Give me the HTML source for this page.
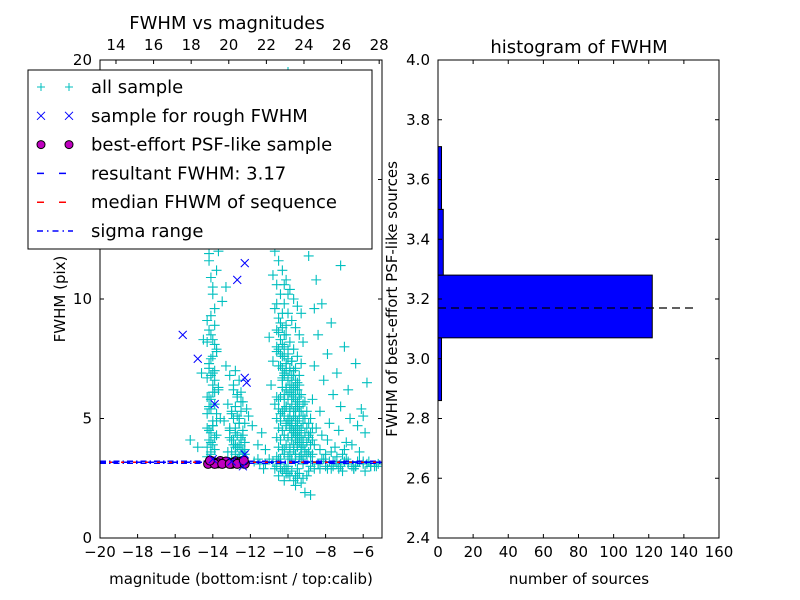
<!DOCTYPE html>
<html><head><meta charset="utf-8"><style>
html,body{margin:0;padding:0;background:#fff;}
svg{display:block;font-family:"DejaVu Sans","Liberation Sans",sans-serif;}
</style></head><body>
<svg id="fig" width="800" height="600" viewBox="0 0 800 600" xmlns="http://www.w3.org/2000/svg">
<rect width="800" height="600" fill="#fff"/>
<g id="left"></g>
<g id="right"></g>
</svg>
<script>
// ---- left chart data ----
const allMag = [
-14.3,-14.2,-14.1,-14.0,-13.9,-14.3,-14.2,-14.0,-13.8,-14.1,-14.2,-14.3,-14.0,-13.9,-14.1,-14.2,-13.8,-14.0,-14.3,-14.1,
-14.2,-14.0,-13.9,-14.1,-14.3,-14.2,-13.8,-14.0,-14.1,-13.9,-14.2,-14.0,-14.3,-13.7,-13.6,-13.8,-14.1,-13.9,-14.2,-14.0,
-13.3,-13.1,-12.9,-12.8,-12.6,-12.5,-12.4,-13.2,-13.0,-12.7,-12.5,-12.3,-13.4,-13.1,-12.8,-12.6,-12.4,-13.0,-12.9,-12.7,
-12.5,-12.3,-13.2,-12.8,-12.6,-12.4,-13.0,-12.7,-12.5,-12.3,-12.9,-12.6,-12.4,-12.2,-13.1,-12.8,-12.5,-12.3,-12.6,-12.4,
-10.9,-10.7,-10.5,-10.3,-10.1,-9.9,-9.7,-9.5,-9.3,-10.8,-10.6,-10.4,-10.2,-10.0,-9.8,-9.6,-9.4,-9.2,-10.7,-10.5,
-10.3,-10.1,-9.9,-9.7,-9.5,-9.3,-10.6,-10.4,-10.2,-10.0,-9.8,-9.6,-9.4,-10.5,-10.3,-10.1,-9.9,-9.7,-9.5,-10.4,
-10.2,-10.0,-9.8,-9.6,-9.4,-10.3,-10.1,-9.9,-9.7,-9.5,-10.2,-10.0,-9.8,-9.6,-9.4,-9.2,-10.1,-9.9,-9.7,-9.5,
-10.0,-9.8,-9.6,-9.4,-9.9,-9.7,-9.5,-9.3,-9.8,-9.6,-9.4,-9.2,-9.7,-9.5,-9.3,-9.1,-10.2,-9.9,-9.6,-9.3,
-10.6,-10.3,-10.0,-9.7,-9.4,-10.5,-10.2,-9.9,-9.6,-9.3,-10.4,-10.1,-9.8,-9.5,-9.2,-10.0,-9.7,-9.4,-9.1,-8.9,
-10.7,-10.4,-10.1,-9.8,-9.5,-10.9,-10.6,-10.2,-9.9,-9.6,-10.8,-10.3,-9.8,-9.4,-10.5,-10.0,-9.6,-11.0,-10.6,-10.1,
-11.8,-11.5,-11.2,-10.8,-10.4,-10.0,-9.6,-9.2,-8.8,-8.4,-8.0,-7.6,-7.2,-6.8,-6.4,-6.0,-5.6,-5.2,-11.6,-11.0,
-10.5,-9.9,-9.3,-8.7,-8.1,-7.5,-6.9,-6.3,-5.7,-11.3,-10.7,-10.1,-9.5,-8.9,-8.3,-7.7,-7.1,-6.5,-5.9,-5.4,
-8.9,-8.6,-8.3,-8.0,-7.7,-7.4,-7.1,-8.8,-8.5,-8.2,-7.9,-7.5,-7.0,-6.6,-6.2,-8.7,-8.3,-7.8,-7.3,-6.9,
-8.6,-8.1,-7.6,-7.2,-6.7,-6.3,-5.9,-8.4,-7.9,-7.4,-6.8,-6.1,-8.2,-7.7,-7.0,-6.4,-5.8,-8.5,-7.2,-6.0,
-10.6,-10.2,-9.8,-9.4,-9.0,-10.4,-10.0,-9.6,-9.2,-10.3,-9.9,-9.5,-10.1,-9.7,-9.3,-10.5,-9.1,-8.8,-9.6,-10.2,
-15.2,-14.8,-14.6,-14.5,-13.5,-13.3,-13.7,-11.9,-11.6,-11.2,-12.1,-11.4,-9.4,-9.2,-8.6,-8.9
];
const allFwhm = [
12.3,11.6,10.9,10.2,9.6,9.1,8.7,8.3,7.9,7.5,7.1,6.7,6.4,6.1,5.8,5.5,5.2,4.9,4.6,4.4,
4.1,3.9,3.7,3.5,3.4,11.9,11.2,10.5,9.3,8.1,7.3,6.9,5.9,6.2,5.0,4.3,3.6,6.6,5.4,4.7,
7.2,6.8,6.4,7.0,6.6,6.1,5.7,5.6,5.2,5.9,5.3,4.8,4.9,4.6,4.4,4.8,4.3,4.1,3.9,3.8,
3.7,4.0,3.6,3.5,3.4,3.6,3.3,3.3,3.2,3.5,6.2,5.0,4.5,5.4,4.2,3.9,4.1,3.7,3.3,3.4,
12.5,12.0,11.6,11.2,10.8,10.4,10.0,9.7,9.4,11.0,10.6,10.2,9.8,9.4,9.1,8.8,8.5,8.2,9.6,9.2,
8.8,8.5,8.2,7.9,7.6,7.3,8.7,8.3,8.0,7.7,7.4,7.1,6.8,7.9,7.6,7.3,7.0,6.8,6.5,7.2,
6.9,6.6,6.4,6.2,6.0,6.6,6.3,6.1,5.9,5.7,6.0,5.8,5.6,5.4,5.3,5.1,5.5,5.3,5.1,4.9,
4.9,4.8,4.6,4.5,4.6,4.4,4.3,4.2,4.2,4.1,4.0,3.9,3.9,3.8,3.7,3.6,3.7,3.6,3.5,3.4,
15.0,14.2,13.6,13.0,12.6,16.5,15.5,14.6,13.8,13.2,18.0,16.9,15.8,14.9,14.0,19.5,17.6,16.2,15.1,13.4,
5.6,5.2,4.8,4.5,4.2,6.4,5.9,5.4,5.0,4.7,7.4,6.7,6.0,5.5,5.8,4.9,4.4,8.4,7.8,7.0,
3.2,3.1,3.1,3.2,3.1,3.0,3.2,3.1,3.0,3.1,3.2,3.0,3.1,3.2,3.0,3.1,3.0,3.1,3.3,3.3,
3.3,3.3,3.3,3.2,3.3,3.2,3.3,3.2,3.2,2.9,2.9,2.9,2.9,2.8,2.9,2.9,2.8,2.9,2.8,3.0,
4.2,3.9,3.7,3.5,3.6,3.4,3.5,5.0,4.6,4.3,4.1,3.8,3.7,3.9,3.6,5.8,5.3,4.8,4.5,4.0,
7.2,6.6,6.0,5.5,5.0,4.7,4.4,8.5,7.7,6.9,6.2,5.4,9.8,9.0,8.0,7.3,6.5,10.8,11.4,5.1,
3.0,2.9,2.8,2.7,2.6,2.9,2.7,2.6,2.5,2.8,2.6,2.5,2.7,2.4,2.3,2.6,1.9,1.8,2.2,2.4,
4.1,3.8,6.9,8.3,9.9,10.5,12.0,4.7,3.9,3.7,5.1,4.4,12.8,13.7,9.6,11.8
];
// dense core of the all-sample cloud
const coreMag = [
-10.6,-10.4,-10.2,-10.0,-9.8,-9.6,-9.4,-9.2,-9.0,-8.8,-10.5,-10.3,-10.1,-9.9,-9.7,-9.5,-9.3,-9.1,-8.9,-8.7,
-10.6,-10.4,-10.2,-10.0,-9.8,-9.6,-9.4,-9.2,-9.0,-8.8,-10.5,-10.3,-10.1,-9.9,-9.7,-9.5,-9.3,-9.1,-8.9,-8.7,
-10.6,-10.4,-10.2,-10.0,-9.8,-9.6,-9.4,-9.2,-9.0,-8.8,-10.5,-10.3,-10.1,-9.9,-9.7,-9.5,-9.3,-9.1,-8.9,-8.7,
-10.4,-10.2,-10.0,-9.8,-9.6,-9.4,-9.2,-9.0,-10.3,-10.1,-9.9,-9.7,-9.5,-9.3,-9.1,-10.2,-10.0,-9.8,-9.6,-9.4,
-10.5,-10.3,-10.1,-9.9,-9.7,-10.4,-10.2,-10.0,-9.8,-10.6,-10.3,-10.0,-10.5,-10.2,-10.4,-10.1,-10.3,-10.6,-10.0,-10.2,
-14.3,-14.1,-13.9,-14.2,-14.0,-13.8,-14.3,-14.1,-13.9,-14.2,-14.0,-13.7,-14.1,-13.9,-14.2,-14.0,-13.8,-14.3,-14.1,-13.9,
-13.0,-12.8,-12.6,-12.9,-12.7,-12.5,-13.1,-12.8,-12.6,-12.9,-12.7,-12.4,-13.0,-12.8,-12.5,-12.7,
-8.4,-8.0,-7.6,-7.2,-6.8,-6.4,-6.0,-5.6,-8.2,-7.8,-7.4,-7.0,-6.6,-6.2,-5.8,-5.3,-8.6,-7.9,-7.3,-6.5
];
const coreFwhm = [
3.4,3.3,3.5,3.4,3.3,3.5,3.4,3.3,3.5,3.4,3.8,3.7,3.9,3.8,3.7,3.9,3.8,3.7,3.6,3.5,
4.2,4.1,4.3,4.2,4.1,4.3,4.2,4.1,4.0,3.9,4.6,4.5,4.7,4.6,4.5,4.7,4.6,4.4,4.3,4.1,
5.0,4.9,5.1,5.0,4.9,5.1,5.0,4.8,4.6,4.4,5.4,5.3,5.5,5.4,5.3,5.5,5.3,5.0,4.8,4.6,
5.9,5.8,6.0,5.9,5.8,5.9,5.6,5.3,6.3,6.2,6.4,6.3,6.2,6.0,5.7,6.8,6.7,6.8,6.6,6.4,
7.2,7.1,7.3,7.1,7.0,7.7,7.6,7.5,7.4,8.0,8.1,7.9,8.6,8.5,9.0,8.9,9.4,9.8,10.2,10.6,
3.8,4.0,4.2,4.5,4.7,4.9,5.2,5.4,5.6,5.9,6.1,6.3,6.8,7.0,7.3,7.6,7.8,8.2,8.5,8.9,
3.6,3.8,3.9,4.1,4.3,4.2,4.5,4.6,4.8,5.0,5.1,3.7,5.3,5.5,5.7,6.0,
3.1,3.0,3.2,3.0,3.1,3.0,3.2,3.0,3.3,3.2,3.1,3.2,3.0,3.2,3.1,3.0,2.9,2.9,2.9,2.9
];
const roughMag = [-15.6,-14.8,-13.9,-12.7,-12.3,-12.3,-12.2,-12.3,-12.4,-14.0,-13.0];
const roughFwhm = [8.5,7.5,5.6,10.8,11.5,6.7,6.5,3.5,3.0,3.3,3.2];
const psfMag = [-14.2,-14.0,-13.8,-13.6,-13.4,-13.2,-13.0,-12.8,-12.6,-12.4,-14.1,-13.7,-13.3,-12.9,-12.5,-14.25,-13.9,-13.5,-13.1,-12.7,-12.3,-14.15,-12.35];
const psfFwhm = [3.15,3.2,3.12,3.22,3.14,3.18,3.1,3.21,3.16,3.13,3.22,3.12,3.2,3.15,3.19,3.1,3.1,3.1,3.1,3.1,3.1,3.24,3.24];
const resultFwhm = 3.17;
const medianFwhm = 3.17;
const sigmaRange = [3.13, 3.21];
const xTicksBottom = [-20,-18,-16,-14,-12,-10,-8,-6];
const xTicksTop = [14,16,18,20,22,24,26,28];
const yTicksLeft = [0,5,10,15,20];
// ---- histogram data ----
const binEdges = [2.86,3.07,3.28,3.50,3.71];
const binCounts = [2,122,3,2];
const histXTicks = [0,20,40,60,80,100,120,140,160];
const histYTicks = [2.4,2.6,2.8,3.0,3.2,3.4,3.6,3.8,4.0];

const NS="http://www.w3.org/2000/svg";
function mk(parent,tag,attrs,text){const e=document.createElementNS(NS,tag);for(const k in attrs)e.setAttribute(k,attrs[k]);if(text!==undefined)e.textContent=text;parent.appendChild(e);return e;}
const fmt=v=>String(v).replace('-','\u2212');

const L={x0:100,x1:382,y0:538,y1:60,xmin:-20,xmax:-5,ymin:0,ymax:20};
const lx=v=>L.x0+(v-L.xmin)/(L.xmax-L.xmin)*(L.x1-L.x0);
const ly=v=>L.y0-(v-L.ymin)/(L.ymax-L.ymin)*(L.y0-L.y1);
const calibOffset=33.15;
const left=document.getElementById('left');
const clipDefs=mk(document.getElementById('fig'),'defs',{});
const cp=mk(clipDefs,'clipPath',{id:'lclip'});
mk(cp,'rect',{x:L.x0,y:L.y1,width:L.x1-L.x0,height:L.y0-L.y1});
const plot=mk(left,'g',{'clip-path':'url(#lclip)'});


const allG=mk(plot,'g',{stroke:'#00bfbf','stroke-width':1.1});


function plus(xv,yv){const x=lx(xv),y=ly(yv);
  const p=mk(allG,'path',{d:`M${x-5},${y}h10M${x},${y-5}v10`});
  
  }
for(let i=0;i<allMag.length;i++)plus(allMag[i],allFwhm[i]);
for(let i=0;i<coreMag.length;i++)plus(coreMag[i],coreFwhm[i]);
function hline(v,attrs,name){const l=mk(plot,'line',Object.assign({x1:L.x0,x2:L.x1,y1:ly(v),y2:ly(v)},attrs));}
hline(sigmaRange[0],{stroke:'#00f','stroke-width':1.5,'stroke-dasharray':'6 3 1.5 3'},'sigma-range-lower');
hline(sigmaRange[1],{stroke:'#00f','stroke-width':1.5,'stroke-dasharray':'6 3 1.5 3'},'sigma-range-upper');
hline(medianFwhm,{stroke:'#f00','stroke-width':1.5,'stroke-dasharray':'6 6','stroke-dashoffset':3},'median-fwhm-line');
hline(resultFwhm,{stroke:'#00f','stroke-width':1.5,'stroke-dasharray':'6 6'},'resultant-fwhm-line');
const psfG=mk(plot,'g',{fill:'#bf00bf',stroke:'#000','stroke-width':1});


for(let i=0;i<psfMag.length;i++){const c=mk(psfG,'circle',{cx:lx(psfMag[i]),cy:ly(psfFwhm[i]),r:4.5});
  
  }
const roughG=mk(plot,'g',{stroke:'#00f','stroke-width':1});


for(let i=0;i<roughMag.length;i++){const x=lx(roughMag[i]),y=ly(roughFwhm[i]);
  const p=mk(roughG,'path',{d:`M${x-4},${y-4}l8,8M${x-4},${y+4}l8,-8`});
  
  }
mk(left,'rect',{x:L.x0,y:L.y1,width:L.x1-L.x0,height:L.y0-L.y1,fill:'none',stroke:'#000','stroke-width':1});
const tickG=mk(left,'g',{stroke:'#000','stroke-width':1});
const txtG=mk(left,'g',{'font-size':15,fill:'#000'});
xTicksBottom.forEach(v=>{const x=lx(v);mk(tickG,'line',{x1:x,x2:x,y1:L.y0,y2:L.y0-4});
  const t=mk(txtG,'text',{x:x,y:L.y0+19,'text-anchor':'middle'},fmt(v));});
xTicksTop.forEach(v=>{const x=lx(v-calibOffset);mk(tickG,'line',{x1:x,x2:x,y1:L.y1,y2:L.y1+4});
  const t=mk(txtG,'text',{x:x,y:L.y1-10,'text-anchor':'middle'},fmt(v));});
yTicksLeft.forEach(v=>{const y=ly(v);mk(tickG,'line',{x1:L.x0,x2:L.x0+4,y1:y,y2:y});mk(tickG,'line',{x1:L.x1,x2:L.x1-4,y1:y,y2:y});
  const t=mk(txtG,'text',{x:L.x0-8,y:y+5,'text-anchor':'end'},fmt(v));});
let t;
t=mk(left,'text',{x:227,y:29,'text-anchor':'middle','font-size':18},'FWHM vs magnitudes');
t=mk(left,'text',{x:241,y:584,'text-anchor':'middle','font-size':15},'magnitude (bottom:isnt / top:calib)');
t=mk(left,'text',{x:65,y:299,'text-anchor':'middle','font-size':15,transform:'rotate(-90 65 299)'},'FWHM (pix)');
const lg=mk(left,'g',{});


mk(lg,'rect',{x:28,y:70,width:344,height:179,fill:'#fff',stroke:'#000','stroke-width':1});
const entries=['all sample','sample for rough FWHM','best-effort PSF-like sample','resultant FWHM: 3.17','median FHWM of sequence','sigma range'];
entries.forEach((s,i)=>{const y=87+i*28.8;const g=mk(lg,'g',{});
  
  
  [41,69].forEach(x=>{
    if(i===0)mk(g,'path',{d:`M${x-4},${y}h8M${x},${y-4}v8`,stroke:'#00bfbf'});
    if(i===1)mk(g,'path',{d:`M${x-4},${y-4}l8,8M${x-4},${y+4}l8,-8`,stroke:'#00f'});
    if(i===2)mk(g,'circle',{cx:x,cy:y,r:4,fill:'#bf00bf',stroke:'#000'});
  });
  if(i===3)mk(g,'line',{x1:37,x2:73,y1:y,y2:y,stroke:'#00f','stroke-width':1.5,'stroke-dasharray':'7 15'});
  if(i===4)mk(g,'line',{x1:37,x2:73,y1:y,y2:y,stroke:'#f00','stroke-width':1.5,'stroke-dasharray':'7 15'});
  if(i===5)mk(g,'line',{x1:37,x2:73,y1:y,y2:y,stroke:'#00f','stroke-width':1.5,'stroke-dasharray':'6 4 1.5 4'});
  mk(g,'text',{x:91,y:y+6,'font-size':18},s);});

const R={x0:438,x1:719,y0:538,y1:60,xmin:0,xmax:160,ymin:2.4,ymax:4.0};
const rx=v=>R.x0+(v-R.xmin)/(R.xmax-R.xmin)*(R.x1-R.x0);
const ry=v=>R.y0-(v-R.ymin)/(R.ymax-R.ymin)*(R.y0-R.y1);
const right=document.getElementById('right');
const barsG=mk(right,'g',{fill:'#00f',stroke:'#000','stroke-width':1});


binCounts.forEach((c,i)=>{const yT=ry(binEdges[i+1]),yB=ry(binEdges[i]);
  const b=mk(barsG,'rect',{x:rx(0),y:yT,width:rx(c)-rx(0),height:yB-yT});
  
  });
const dl=mk(right,'line',{x1:rx(0),x2:rx(148),y1:ry(resultFwhm),y2:ry(resultFwhm),stroke:'#000','stroke-width':1.2,'stroke-dasharray':'8 5'});


mk(right,'rect',{x:R.x0,y:R.y1,width:R.x1-R.x0,height:R.y0-R.y1,fill:'none',stroke:'#000','stroke-width':1});
const rt=mk(right,'g',{stroke:'#000'});const rtx=mk(right,'g',{'font-size':15});
histXTicks.forEach(v=>{const x=rx(v);mk(rt,'line',{x1:x,x2:x,y1:R.y0,y2:R.y0-4});mk(rt,'line',{x1:x,x2:x,y1:R.y1,y2:R.y1+4});
  const t=mk(rtx,'text',{x:x,y:R.y0+19,'text-anchor':'middle'},String(v));});
histYTicks.forEach(v=>{const y=ry(v);mk(rt,'line',{x1:R.x0,x2:R.x0+4,y1:y,y2:y});mk(rt,'line',{x1:R.x1,x2:R.x1-4,y1:y,y2:y});
  const t=mk(rtx,'text',{x:R.x0-8,y:y+5,'text-anchor':'end'},v.toFixed(1));});
t=mk(right,'text',{x:579,y:53,'text-anchor':'middle','font-size':18},'histogram of FWHM');
t=mk(right,'text',{x:579,y:584,'text-anchor':'middle','font-size':15},'number of sources');
t=mk(right,'text',{x:397,y:299,'text-anchor':'middle','font-size':15,transform:'rotate(-90 397 299)'},'FWHM of best-effort PSF-like sources');
</script>
</body></html>
